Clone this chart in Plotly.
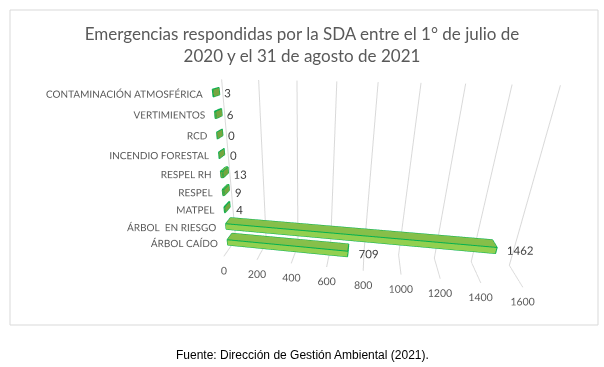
import plotly.graph_objects as go

categories = ["ÁRBOL CAÍDO", "ÁRBOL  EN RIESGO", "MATPEL", "RESPEL", "RESPEL RH",
              "INCENDIO FORESTAL", "RCD", "VERTIMIENTOS", "CONTAMINACIÓN ATMOSFÉRICA"]
values = [709, 1462, 4, 9, 13, 0, 0, 6, 3]
x_ticks = [0, 200, 400, 600, 800, 1000, 1200, 1400, 1600]

title = "Emergencias respondidas por la SDA entre el 1° de julio de<br>2020 y el 31 de agosto de 2021"
source = "Fuente: Dirección de Gestión Ambiental (2021)."

FACE = "#92D050"
EDGE = "#00B050"
HALF = 0.17      # half bar thickness (category units)
Y0, Y1 = 0.35, 0.75  # bar depth
FONT = "Lato"
S = 1.4
PX, PZ = -0.63, -0.25   # camera pan

fig = go.Figure()

for i, v in enumerate(values):
    x0, x1 = 0, v
    z0, z1 = i - HALF, i + HALF
    xs = [x0, x1, x1, x0, x0, x1, x1, x0]
    ys = [Y0, Y0, Y1, Y1, Y0, Y0, Y1, Y1]
    zs = [z0, z0, z0, z0, z1, z1, z1, z1]
    I = [0, 0, 4, 4, 0, 0, 1, 1, 0, 0, 3, 3]
    J = [1, 2, 5, 6, 1, 5, 2, 6, 3, 7, 2, 6]
    K = [2, 3, 6, 7, 5, 4, 6, 5, 7, 4, 6, 7]
    fig.add_trace(go.Mesh3d(x=xs, y=ys, z=zs, i=I, j=J, k=K, color=FACE,
                            flatshading=True, opacity=1,
                            lighting=dict(ambient=0.8, diffuse=0.3, specular=0.0, fresnel=0),
                            lightposition=dict(x=0, y=-1e5, z=1e4),
                            hoverinfo="skip", showscale=False))
    ex, ey, ez = [], [], []
    edges = [(0, 1), (1, 2), (2, 3), (3, 0), (4, 5), (5, 6), (6, 7), (7, 4),
             (0, 4), (1, 5), (2, 6), (3, 7)]
    for a, b in edges:
        ex += [xs[a], xs[b], None]
        ey += [ys[a], ys[b], None]
        ez += [zs[a], zs[b], None]
    fig.add_trace(go.Scatter3d(x=ex, y=ey, z=ez, mode="lines",
                               line=dict(color=EDGE, width=2),
                               hoverinfo="skip", showlegend=False))

# data labels
fig.add_trace(go.Scatter3d(x=values, y=[Y0] * len(values), z=list(range(len(values))),
                           mode="text", text=["   " + str(v) for v in values],
                           textposition="middle right",
                           textfont=dict(family=FONT, size=11.5, color="#404040"),
                           hoverinfo="skip", showlegend=False))
# category labels
fig.add_trace(go.Scatter3d(x=[0] * len(categories), y=[Y0] * len(categories),
                           z=list(range(len(categories))),
                           mode="text", text=[c + "    " for c in categories],
                           textposition="middle left",
                           textfont=dict(family=FONT, size=10, color="#595959"),
                           hoverinfo="skip", showlegend=False))
# value-axis labels
fig.add_trace(go.Scatter3d(x=x_ticks, y=[0] * len(x_ticks), z=[-0.5] * len(x_ticks),
                           mode="text", text=[str(t) for t in x_ticks],
                           textposition="bottom center",
                           textfont=dict(family=FONT, size=10.5, color="#595959"),
                           hoverinfo="skip", showlegend=False))

fig.update_layout(
    width=604, height=367,
    margin=dict(l=0, r=0, t=0, b=0),
    paper_bgcolor="white",
    showlegend=False,
    title=dict(text=title, x=0.5, xanchor="center", y=1 - 40/367, yanchor="middle",
               font=dict(family=FONT, size=17, color="#595959")),
    scene=dict(
        domain=dict(x=[0.0, 1.0], y=[0.05, 0.85]),
        xaxis=dict(range=[0, 1600], tickvals=x_ticks, showgrid=True, gridcolor="#D9D9D9",
                   zeroline=False, showline=False, showbackground=False, title="",
                   showticklabels=False, showspikes=False, ticks=""),
        yaxis=dict(range=[0, 1], showgrid=False, zeroline=False, showline=False,
                   showbackground=False, showticklabels=False, title="", showspikes=False,
                   ticks=""),
        zaxis=dict(range=[-0.5, 8.5], showgrid=False, zeroline=False, showline=False,
                   showbackground=False, showticklabels=False, title="",
                   showspikes=False, ticks=""),
        aspectmode="manual",
        aspectratio=dict(x=2.02 * S, y=0.25 * S, z=1.21 * S),
        camera=dict(eye=dict(x=0.4 * S + PX, y=-2.2 * S, z=1.0 * S + PZ),
                    center=dict(x=PX, y=0, z=PZ),
                    projection=dict(type="perspective")),
    ),
    shapes=[dict(type="rect", xref="paper", yref="paper", x0=10/604, x1=598/604,
                 y0=1 - 325/367, y1=1 - 10/367, line=dict(color="#D9D9D9", width=1))],
    annotations=[dict(text=source, xref="paper", yref="paper", x=0.5, y=1 - 355/367,
                      showarrow=False, xanchor="center", yanchor="middle",
                      font=dict(family="Liberation Sans", size=12, color="black"))],
)

fig.write_html("out.html", config={"displayModeBar": False},
               post_script="document.body.style.margin='0';")
